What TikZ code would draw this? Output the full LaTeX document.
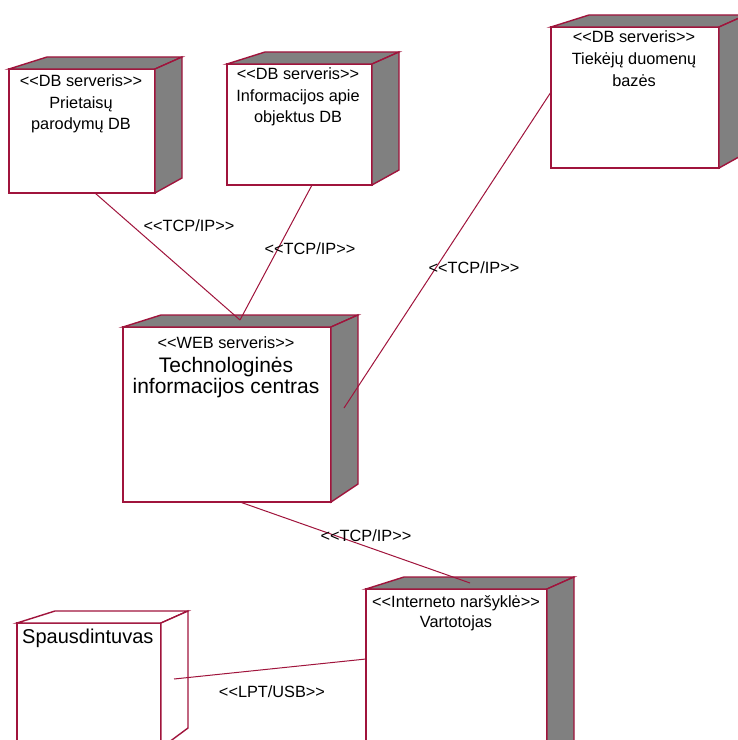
\documentclass[tikz,border=0pt]{standalone}
\usepackage{fontspec}
\setmainfont{Liberation Sans}
\usetikzlibrary{calc}

\definecolor{rosered}{RGB}{160,20,60}
\definecolor{rosegrey}{RGB}{128,128,128}

% chevrons kept apart so the font mapping does not turn them into guillemets
\newcommand\lchev{<\kern0pt<}
\newcommand\rchev{>\kern0pt>}

\tikzset{
  front/.style={rectangle, draw=rosered, line width=1.4bp, fill=white,
                inner sep=0pt, outer sep=0pt},
  face/.style={draw=rosered, line width=1.4bp, line join=miter},
  link/.style={draw=rosered, line width=1bp},
  lbl/.style={font=\fontsize{16.3bp}{20bp}\selectfont, inner sep=0pt, anchor=base},
  big/.style={font=\fontsize{21bp}{22bp}\selectfont, inner sep=0pt, anchor=base},
}

% 3D deployment node: name, x1, y1, x2, y2 (front face), face fill, side drop
\newcommand\rosebox[7]{%
  \node[front, minimum width={(#4-#2)*1bp}, minimum height={(#5-#3)*1bp}]
    (#1) at ({(#2+#4)/2},{(#3+#5)/2}) {};
  \filldraw[face, fill=#6] (#1.north west) -- ++(38,-12)
    -- ($(#1.north east)+(27,-12)$) -- (#1.north east) -- cycle;
  \filldraw[face, fill=#6] (#1.north east) -- ++(27,-12)
    -- ($(#1.south east)+(27,-#7)$) -- (#1.south east) -- cycle;
}

\begin{document}
\begin{tikzpicture}[x=1bp, y=-1bp]
\useasboundingbox (0,0) rectangle (738,740);
\clip (0,0) rectangle (738,740);
\fill[white] (0,0) rectangle (738,740);

% nodes
\rosebox{prd}{9}{69}{155}{193}{rosegrey}{15}
\rosebox{obj}{227}{64}{372}{185}{rosegrey}{15}
\rosebox{tiek}{551}{27}{719}{168}{rosegrey}{15}
\rosebox{web}{123}{327}{331}{502}{rosegrey}{18}
\rosebox{vart}{366}{589}{547}{760}{rosegrey}{18}
\rosebox{prn}{17}{623}{161}{748}{white}{20}

% connectors
\coordinate (webtop) at ($(web.north west)+(117,-7)$);
\draw[link] ($(prd.south west)+(86,0)$) -- (webtop);
\draw[link] ($(obj.south west)+(85,0)$) -- (webtop);
\draw[link] ($(tiek.north west)+(0,65)$) -- ($(web.north east)+(13,81)$);
\draw[link] ($(web.south west)+(117,0)$) -- ($(vart.north west)+(104,-6)$);
\draw[link] ($(prn.north east)+(13,56)$) -- ($(vart.north west)+(0,70)$);

% node texts
\node[lbl] (prd1) at (81,86) {\lchev DB serveris\rchev};
\node[lbl] (prd2) at (81,108) {Prietaisų};
\node[lbl] (prd3) at (81,129) {parodymų DB};

\node[lbl] (obj1) at (298,79) {\lchev DB serveris\rchev};
\node[lbl] (obj2) at (298,101) {Informacijos apie};
\node[lbl] (obj3) at (298,122) {objektus DB};

\node[lbl] (tiek1) at (634,43) {\lchev DB serveris\rchev};
\node[lbl] (tiek2) at (634,65) {Tiekėjų duomenų};
\node[lbl] (tiek3) at (634,86) {bazės};

\node[lbl] (web1) at (226,348) {\lchev WEB serveris\rchev};
\node[big] (web2) at (226,372) {Technologinės};
\node[big] (web3) at (226,393) {informacijos centras};

\node[lbl] (vart1) at (456,607) {\lchev Interneto naršyklė\rchev};
\node[lbl] (vart2) at (456,627) {Vartotojas};

\node[font=\fontsize{20bp}{22bp}\selectfont, inner sep=0pt, anchor=base west]
  (prn1) at (22,643) {Spausdintuvas};

% connector labels
\node[lbl] (tcpa) at (189,231) {\lchev TCP/IP\rchev};
\node[lbl] (tcpb) at (310,254) {\lchev TCP/IP\rchev};
\node[lbl] (tcpc) at (474,273) {\lchev TCP/IP\rchev};
\node[lbl] (tcpd) at (366,541) {\lchev TCP/IP\rchev};
\node[lbl] (lpt) at (272,697) {\lchev LPT/USB\rchev};
\end{tikzpicture}
\end{document}
